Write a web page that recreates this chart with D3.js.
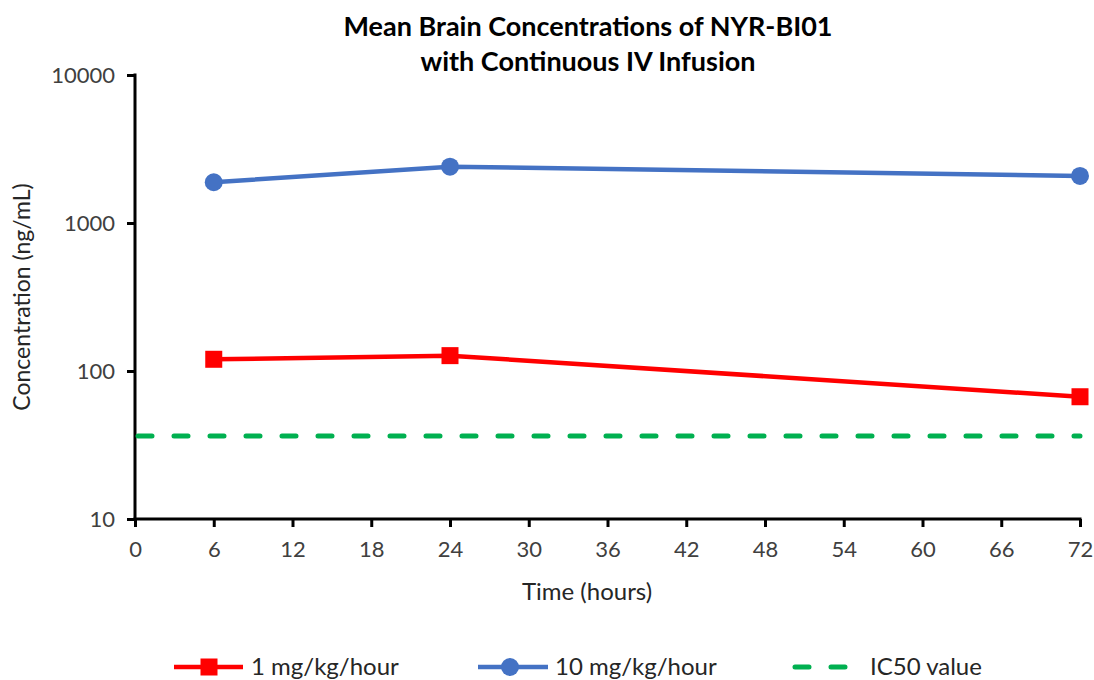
<!DOCTYPE html>
<html>
<head>
<meta charset="utf-8">
<script src="https://cdn.jsdelivr.net/npm/d3@7"></script>
<style>
  body { margin: 0; background: #fff; }
  svg { display: block; font-family: Lato, "Open Sans", sans-serif; }
</style>
</head>
<body>
<div id="chart"></div>
<script>
(function (d3) {
	'use strict';

	// data
	const hours = [6, 24, 72];
	const lowDose = [120, 127, 67];        // 1 mg/kg/hour
	const highDose = [1885, 2400, 2080];   // 10 mg/kg/hour
	const ic50 = 36.4;
	const xTicks = [0, 6, 12, 18, 24, 30, 36, 42, 48, 54, 60, 66, 72];
	const yTicks = [10, 100, 1000, 10000];
	const seriesNames = ["1 mg/kg/hour", "10 mg/kg/hour", "IC50 value"];

	const width = 1094, height = 680;
	const margin = { top: 75, right: 14, bottom: 161, left: 135 };

	const svg = d3.select("#chart").append("svg")
		.attr("width", width).attr("height", height);

	const xScale = d3.scaleLinear()
		.domain([0, 72])
		.range([margin.left, width - margin.right]);
	const yScale = d3.scaleLog()
		.domain([10, 10000])
		.range([height - margin.bottom, margin.top]);

	// title
	const title = svg.append("text")
		.attr("x", 588).attr("y", 36)
		.attr("text-anchor", "middle")
		.attr("font-weight", "bold")
		.attr("font-size", 27)
		.attr("fill", "#000");
	title.append("tspan").attr("x", 588).attr("dy", 0).text("Mean Brain Concentrations of NYR-BI01");
	title.append("tspan").attr("x", 588).attr("dy", 35).text("with Continuous IV Infusion");

	// axes
	const xAxisG = svg.append("g")
		.attr("transform", `translate(0,${yScale(10)})`)
		.call(d3.axisBottom(xScale).tickValues(xTicks).tickSize(8).tickSizeOuter(0).tickPadding(14));
	const yAxisG = svg.append("g")
		.attr("transform", `translate(${xScale(0)},0)`)
		.call(d3.axisLeft(yScale).tickValues(yTicks).tickFormat(d3.format("d")).tickSize(8).tickSizeOuter(0).tickPadding(12));

	[xAxisG, yAxisG].forEach(g => {
		g.selectAll(".domain").attr("stroke", "#000").attr("stroke-width", 3);
		g.selectAll(".tick line").attr("stroke", "#000").attr("stroke-width", 3);
		g.selectAll(".tick text")
			.attr("font-family", "Lato, sans-serif")
			.attr("font-size", 22)
			.attr("fill", "#404040");
	});
	xAxisG.select(".domain").attr("d", `M${xScale(0) - 1.5},0H${xScale(72) + 1.5}`);
	yAxisG.select(".domain").attr("d", `M0,${yScale(10) + 1.5}V${yScale(10000) - 1.5}`);

	// axis titles
	svg.append("text")
		.attr("x", 587).attr("y", 600)
		.attr("text-anchor", "middle")
		.attr("font-size", 24)
		.attr("fill", "#262626")
		.text("Time (hours)");
	svg.append("text")
		.attr("transform", `translate(30,297) rotate(-90)`)
		.attr("text-anchor", "middle")
		.attr("font-size", 23)
		.attr("fill", "#262626")
		.text("Concentration (ng/mL)");

	// IC50 line
	svg.append("line")
		.attr("x1", xScale(0) + 3).attr("x2", xScale(72))
		.attr("y1", yScale(ic50)).attr("y2", yScale(ic50))
		.attr("stroke", "#00B050")
		.attr("stroke-width", 5)
		.attr("stroke-linecap", "round")
		.attr("stroke-dasharray", "14,22");

	const line = d3.line()
		.x((d, i) => xScale(hours[i]))
		.y(d => yScale(d));

	// 1 mg/kg/hour
	svg.append("path")
		.datum(lowDose)
		.attr("d", line)
		.attr("fill", "none")
		.attr("stroke", "#FF0000")
		.attr("stroke-width", 4.5);
	svg.selectAll(".sq").data(lowDose).enter().append("rect")
		.attr("class", "sq")
		.attr("x", (d, i) => xScale(hours[i]) - 8.5)
		.attr("y", d => yScale(d) - 8.5)
		.attr("width", 17).attr("height", 17)
		.attr("fill", "#FF0000");

	// 10 mg/kg/hour
	svg.append("path")
		.datum(highDose)
		.attr("d", line)
		.attr("fill", "none")
		.attr("stroke", "#4472C4")
		.attr("stroke-width", 4.5);
	svg.selectAll(".dot").data(highDose).enter().append("circle")
		.attr("class", "dot")
		.attr("cx", (d, i) => xScale(hours[i]))
		.attr("cy", d => yScale(d))
		.attr("r", 9)
		.attr("fill", "#4472C4");

	// legend
	const legY = 667;
	const leg = svg.append("g");
	leg.append("line").attr("x1", 174).attr("x2", 243).attr("y1", legY).attr("y2", legY)
		.attr("stroke", "#FF0000").attr("stroke-width", 4.5);
	leg.append("rect").attr("x", 200.5).attr("y", legY - 8.5).attr("width", 17).attr("height", 17)
		.attr("fill", "#FF0000");
	leg.append("text").attr("x", 251).attr("y", legY + 8).text(seriesNames[0]);

	leg.append("line").attr("x1", 478).attr("x2", 548).attr("y1", legY).attr("y2", legY)
		.attr("stroke", "#4472C4").attr("stroke-width", 4.5);
	leg.append("circle").attr("cx", 510).attr("cy", legY).attr("r", 9).attr("fill", "#4472C4");
	leg.append("text").attr("x", 555).attr("y", legY + 8).text(seriesNames[1]);

	leg.append("line").attr("x1", 795).attr("x2", 850).attr("y1", legY).attr("y2", legY)
		.attr("stroke", "#00B050").attr("stroke-width", 5)
		.attr("stroke-linecap", "round").attr("stroke-dasharray", "14,22");
	leg.append("text").attr("x", 870).attr("y", legY + 8).text(seriesNames[2]);

	leg.selectAll("text").attr("font-size", 24).attr("fill", "#262626");
}(d3));
</script>
</body>
</html>
